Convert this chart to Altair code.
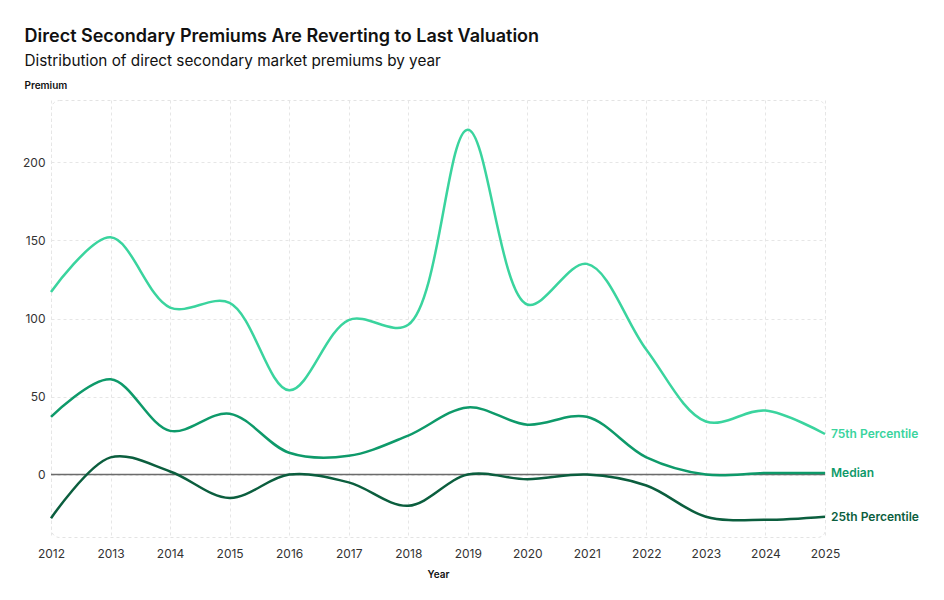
import altair as alt
import pandas as pd

years = list(range(2012, 2026))
p75 = [117, 152, 107, 110, 54, 99, 96, 221, 109, 135, 80, 34, 41, 26]
median = [37, 61, 28, 39, 14, 12, 25, 43, 32, 37, 11, 0, 1, 1]
p25 = [-28, 11, 2, -15, 0, -5, -20, 0, -3, 0, -7, -27, -29, -27]
series_names = ["75th Percentile", "Median", "25th Percentile"]
colors = ["#3ad49e", "#0e9a6a", "#0b5e3e"]

rows = []
for name, vals in zip(series_names, [p75, median, p25]):
    for y, v in zip(years, vals):
        rows.append({"Year": y, "Premium": v, "Series": name})
df = pd.DataFrame(rows)
last = df[df["Year"] == years[-1]]

FONT = "Inter"
xscale = alt.Scale(domain=[2012, 2025], nice=False)
yscale = alt.Scale(domain=[-40, 240], nice=False)
cscale = alt.Scale(domain=series_names, range=colors)

base = alt.Chart(df)

lines = base.mark_line(interpolate="catmull-rom", strokeWidth=2.5).encode(
    x=alt.X("Year:Q", scale=xscale,
            axis=alt.Axis(values=years, format="d", title="Year", grid=True,
                          ticks=False, domain=False, labelPadding=11,
                          labelFlush=False, titlePadding=10)),
    y=alt.Y("Premium:Q", scale=yscale,
            axis=alt.Axis(values=[0, 50, 100, 150, 200], title="Premium",
                          grid=True, ticks=False, domain=False, labelPadding=6,
                          labelFlush=False,
                          titleAngle=0, titleAlign="left", titleBaseline="middle",
                          titleX=-27, titleY=-15)),
    color=alt.Color("Series:N", scale=cscale, legend=None),
)

zero = alt.Chart(pd.DataFrame({"z": [0]})).mark_rule(color="#6b6b6b", strokeWidth=1.5).encode(
    y=alt.Y("z:Q", scale=yscale)
)

labels = alt.Chart(last).mark_text(align="left", dx=6, fontSize=12, fontWeight=600,
                                   font=FONT).encode(
    x=alt.X("Year:Q", scale=xscale),
    y=alt.Y("Premium:Q", scale=yscale),
    text="Series:N",
    color=alt.Color("Series:N", scale=cscale, legend=None),
)

chart = alt.layer(zero, lines, labels).properties(
    width=774, height=437,
    autosize=alt.AutoSizeParams(type="none"),
    title=alt.TitleParams(
        text="Direct Secondary Premiums Are Reverting to Last Valuation",
        subtitle="Distribution of direct secondary market premiums by year",
        anchor="start", dx=2, fontSize=18, fontWeight=600, font=FONT,
        color="#111111", subtitleFontSize=15.3, subtitleFont=FONT,
        subtitleColor="#111111", subtitlePadding=8, offset=11,
    ),
    padding={"left": 43, "top": 92, "right": 100, "bottom": 48},
).configure(font=FONT).configure_view(
    stroke="#e3e3e3", strokeDash=[3, 3], cornerRadius=8, strokeWidth=1
).configure_axis(
    gridColor="#e6e6e6", gridDash=[3, 3], gridWidth=1,
    labelFont=FONT, labelFontSize=12, labelColor="#333333",
    titleFont=FONT, titleFontSize=10, titleFontWeight=600, titleColor="#111111",
)

chart.save("out.html", embed_options={"renderer": "svg", "actions": False})
